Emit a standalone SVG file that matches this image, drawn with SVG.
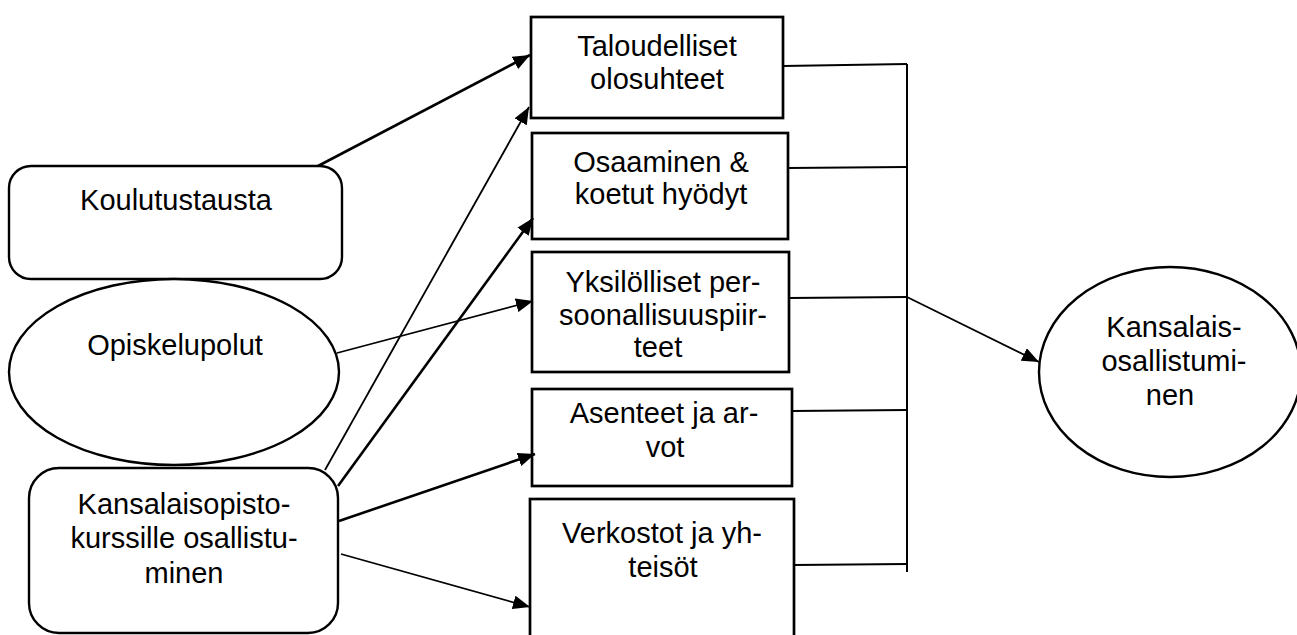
<svg xmlns="http://www.w3.org/2000/svg" width="1297" height="635" viewBox="0 0 1297 635">
<style>
text{font-family:"Liberation Sans",Arial,sans-serif;font-size:29px;fill:#000;text-anchor:middle}
.box{fill:#fff;stroke:#000;stroke-width:2.7}
.node{fill:#fff;stroke:#000;stroke-width:2.4}
.c{stroke:#000;fill:none}
.thick{stroke-width:2.6}
.thin{stroke-width:1.8}
.br{stroke-width:2}
</style>
<defs>
<marker id="ah" markerUnits="userSpaceOnUse" markerWidth="18" markerHeight="14" refX="17" refY="7" orient="auto">
<path d="M0,0 L17,7 L0,14 z" fill="#000"/>
</marker>
</defs>
<rect width="1297" height="635" fill="#fff"/>
<g id="n-koulutustausta"><rect class="node" x="9" y="166" width="333" height="113" rx="22"/><text x="176" y="210">Koulutustausta</text></g>
<g id="n-opiskelupolut"><ellipse class="node" cx="174" cy="372" rx="165" ry="93"/><text x="175" y="355">Opiskelupolut</text></g>
<g id="n-kansalaisopisto"><rect class="node" x="29" y="468" width="309" height="165" rx="30"/><text x="184" y="514">Kansalaisopisto-</text><text x="184" y="548">kurssille osallistu-</text><text x="184" y="583">minen</text></g>
<g id="n-taloudelliset"><rect class="box" x="531" y="17" width="252" height="101"/><text x="657" y="56">Taloudelliset</text><text x="657" y="89">olosuhteet</text></g>
<g id="n-osaaminen"><rect class="box" x="532" y="133" width="256" height="106"/><text x="661" y="172">Osaaminen &amp;</text><text x="661" y="204">koetut hyödyt</text></g>
<g id="n-yksilolliset"><rect class="box" x="532" y="252" width="257" height="120"/><text x="663" y="292">Yksilölliset per-</text><text x="663" y="325">soonallisuuspiir-</text><text x="658" y="357">teet</text></g>
<g id="n-asenteet"><rect class="box" x="532" y="389" width="260" height="97"/><text x="664" y="423">Asenteet ja ar-</text><text x="665" y="457">vot</text></g>
<g id="n-verkostot"><rect class="box" x="530" y="499" width="264" height="150"/><text x="662" y="543">Verkostot ja yh-</text><text x="663" y="577">teisöt</text></g>
<g id="n-kansalaisosallistuminen"><ellipse class="node" cx="1170" cy="372" rx="131" ry="105"/><text x="1174" y="337">Kansalais-</text><text x="1174" y="371">osallistumi-</text><text x="1170" y="405">nen</text></g>
<g id="connectors">
<line class="c thick" x1="318" y1="166" x2="530" y2="55" marker-end="url(#ah)"/>
<line class="c thin" x1="325" y1="470" x2="529" y2="107" marker-end="url(#ah)"/>
<line class="c thick" x1="338" y1="486" x2="533" y2="218" marker-end="url(#ah)"/>
<line class="c thin" x1="337" y1="353" x2="533" y2="301" marker-end="url(#ah)"/>
<line class="c thick" x1="339" y1="521" x2="535" y2="454" marker-end="url(#ah)"/>
<line class="c thin" x1="341" y1="554" x2="530" y2="607" marker-end="url(#ah)"/>
<line class="c br" x1="783" y1="66" x2="907" y2="64"/>
<line class="c br" x1="788" y1="168" x2="906" y2="167"/>
<line class="c br" x1="789" y1="298" x2="907" y2="297"/>
<line class="c br" x1="792" y1="411" x2="907" y2="410"/>
<line class="c br" x1="794" y1="565" x2="907" y2="564"/>
<line class="c br" x1="907" y1="64" x2="907" y2="572"/>
<line class="c thin" x1="907" y1="297" x2="1039" y2="362" marker-end="url(#ah)"/>
</g>
</svg>
